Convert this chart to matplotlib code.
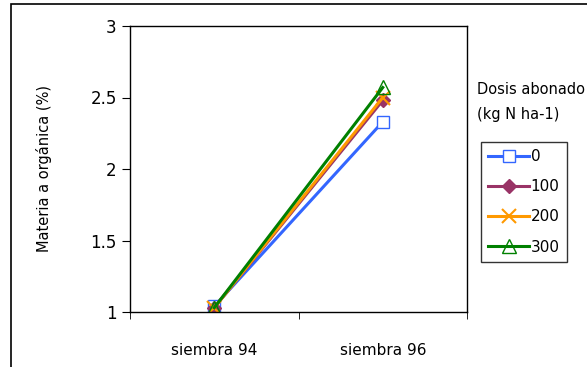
import matplotlib.pyplot as plt
from matplotlib.patches import Rectangle

plt.rcParams['font.family'] = ['DejaVu Sans']

siembras = ["siembra 94", "siembra 96"]
dosis = ["0", "100", "200", "300"]
mo_0 = [1.04, 2.33]
mo_100 = [1.03, 2.48]
mo_200 = [1.03, 2.50]
mo_300 = [1.03, 2.57]

series = [mo_0, mo_100, mo_200, mo_300]
colores = ["#3366FF", "#993366", "#FF9900", "#008000"]
marcadores = [dict(marker="s", mfc="white", ms=9),
              dict(marker="D", mfc="#993366", ms=7),
              dict(marker="x", mfc="none", ms=10, mew=1.5),
              dict(marker="^", mfc="none", ms=10)]

fig = plt.figure(figsize=(5.87, 3.67), dpi=100)
ax = fig.add_axes([130/587, 1-312/367, 337/587, 286/367])

x = list(range(len(siembras)))
for vals, c, m, lab in zip(series, colores, marcadores, dosis):
    ax.plot(x, vals, color=c, lw=2.2, mec=c, label=lab, **m)

ax.set_xlim(-0.5, 1.5)
ax.set_ylim(1, 3)
ax.set_yticks([1, 1.5, 2, 2.5, 3])
ax.set_yticklabels(["1", "1.5", "2", "2.5", "3"], fontsize=12)
ax.set_xticks(x)
ax.set_xticklabels(siembras, fontsize=11)
ax.tick_params(axis="x", length=0, pad=22)
# category boundary ticks
ax.set_xticks([-0.5, 0.5, 1.5], minor=True)
ax.tick_params(axis="x", which="minor", length=5, direction="out")
ax.tick_params(axis="y", length=6, direction="out")
ax.set_ylabel("Materia a orgánica (%)", fontsize=10.5, labelpad=28)
for s in ax.spines.values():
    s.set_linewidth(1.0)

fig.text(477/587, 1-102/367, "Dosis abonado\n(kg N ha-1)", fontsize=10.5,
         va="center", ha="left", linespacing=1.8)
leg = ax.legend(loc="upper left", bbox_to_anchor=(481/587, 1-142/367),
                bbox_transform=fig.transFigure, fontsize=11, frameon=True,
                fancybox=False, edgecolor="black", handlelength=2.7,
                handletextpad=0.1, borderpad=0.45, borderaxespad=0,
                labelspacing=1.0)
leg.get_frame().set_linewidth(1.0)

fig.patches.append(Rectangle((11/587, -0.1), 1.0, 1.1 - 4/367, fill=False,
                             edgecolor="black", lw=1.2,
                             transform=fig.transFigure, figure=fig))

fig.savefig("out.png", dpi=100)
